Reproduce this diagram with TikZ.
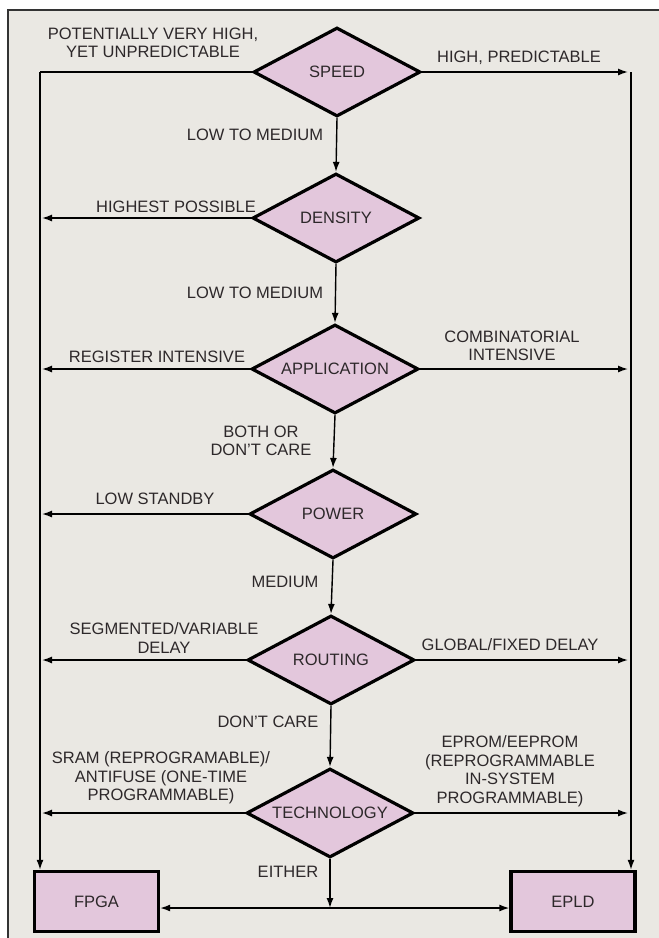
\documentclass[tikz,border=0pt]{standalone}
\usepackage{fontspec}
\setmainfont{Liberation Sans}
\usetikzlibrary{shapes.geometric,arrows.meta,positioning}
\definecolor{paper}{RGB}{234,232,227}
\definecolor{mauve}{RGB}{227,199,220}
\definecolor{ink}{RGB}{45,40,42}
\tikzstyle{every node}=[font=\fontsize{16.5}{18.5}\selectfont,text=ink]
\tikzstyle{every path}=[line width=1.4pt]
\tikzstyle{decision}=[diamond,draw=black,line width=3.2pt,line join=miter,fill=mauve,minimum width=167pt,minimum height=89pt,aspect=1.85,inner sep=0pt]
\tikzstyle{device}=[rectangle,draw=black,line width=3.4pt,fill=mauve,minimum width=124pt,minimum height=60pt]
\tikzstyle{lbl}=[align=center,inner sep=0pt]
\tikzstyle{flow}=[-{Latex[length=10pt,width=7pt]}]

\begin{document}
\begin{tikzpicture}[x=1pt,y=-1pt]
%PLD selection chart
	\newcommand\railL{40} %left rail
	\newcommand\railR{631} %right rail
	\useasboundingbox (0,0) rectangle (659,938);
	\fill[paper] (8,10) rectangle (659,938); %% grey plate
	\draw[line width=1.2pt,black!80] (8,938) -- (8,10) -- (659,10); %% frame, cut off at right and bottom
	\coordinate (tipL) at (42,0); %% where the left arrows stop
	\coordinate (tipR) at (628,0); %% where the right arrows stop
	\coordinate (base) at (0,908); %% level of the bottom line
	%DECISIONS
	\node[decision] (speed) at (337,72) {SPEED};
	\node[decision] (density) at (336,218) {DENSITY};
	\node[decision] (application) at (335,369) {APPLICATION};
	\node[decision] (power) at (333,514) {POWER};
	\node[decision] (routing) at (331,660) {ROUTING};
	\node[decision] (technology) at (330,813) {TECHNOLOGY};
	%DEVICES
	\node[device] (fpga) at (96.5,901.5) {FPGA};
	\node[device] (epld) at (573,901.5) {EPLD};
	%main line
	\draw[flow] (speed.south) -- (density.north);
	\draw[flow] (density.south) -- (application.north);
	\draw[flow] (application.south) -- (power.north);
	\draw[flow] (power.south) -- (routing.north);
	\draw[flow] (routing.south) -- (technology.north);
	\draw[flow] (technology.south) -- (technology.south |- base) coordinate (joinB); %% joinB is where EITHER splits
	\draw[flow] (joinB) -- (joinB -| fpga.east);
	\draw[flow] (joinB) -- (joinB -| epld.west);
	%rails
	\draw (speed.west) -- (\railL,72) coordinate (railLT); %% railLT is the top of the FPGA rail
	\draw[flow] (railLT) -- (railLT |- fpga.north);
	\draw[flow] (speed.east) -- (speed.east -| tipR);
	\draw[flow] (\railR,72) coordinate (railRT) -- (railRT |- epld.north); %% railRT is the top of the EPLD rail
	%left branches
	\draw[flow] (density.west) -- (density.west -| tipL);
	\draw[flow] (application.west) -- (application.west -| tipL);
	\draw[flow] (power.west) -- (power.west -| tipL);
	\draw[flow] (routing.west) -- (routing.west -| tipL);
	\draw[flow] (technology.west) -- (technology.west -| tipL);
	%right branches
	\draw[flow] (application.east) -- (application.east -| tipR);
	\draw[flow] (routing.east) -- (routing.east -| tipR);
	\draw[flow] (technology.east) -- (technology.east -| tipR);
	%labels
	\node[lbl] (spdFast) at (153,43) {POTENTIALLY VERY HIGH,\\YET UNPREDICTABLE};
	\node[lbl] (spdPred) at (519,58) {HIGH, PREDICTABLE};
	\node[lbl] (spdLow) at (255,135) {LOW TO MEDIUM};
	\node[lbl] (denHigh) at (176,207) {HIGHEST POSSIBLE};
	\node[lbl] (denLow) at (255,293) {LOW TO MEDIUM};
	\node[lbl] (appReg) at (157,357) {REGISTER INTENSIVE};
	\node[lbl] (appComb) at (512,346) {COMBINATORIAL\\INTENSIVE};
	\node[lbl] (appBoth) at (261,441) {BOTH OR\\DON'T CARE};
	\node[lbl] (powLow) at (155,499) {LOW STANDBY};
	\node[lbl] (powMed) at (285,582) {MEDIUM};
	\node[lbl] (rouSeg) at (164,638) {SEGMENTED/VARIABLE\\DELAY};
	\node[lbl] (rouGlob) at (510,645) {GLOBAL/FIXED DELAY};
	\node[lbl] (rouAny) at (268,722) {DON'T CARE};
	\node[lbl] (tecSram) at (161,778) {SRAM (REPROGRAMABLE)/\\ANTIFUSE (ONE-TIME\\PROGRAMMABLE)};
	\node[lbl] (tecEprom) at (510,771) {EPROM/EEPROM\\(REPROGRAMMABLE\\IN-SYSTEM\\PROGRAMMABLE)};
	\node[lbl] (tecAny) at (288,872) {EITHER};
\end{tikzpicture}
\end{document}
